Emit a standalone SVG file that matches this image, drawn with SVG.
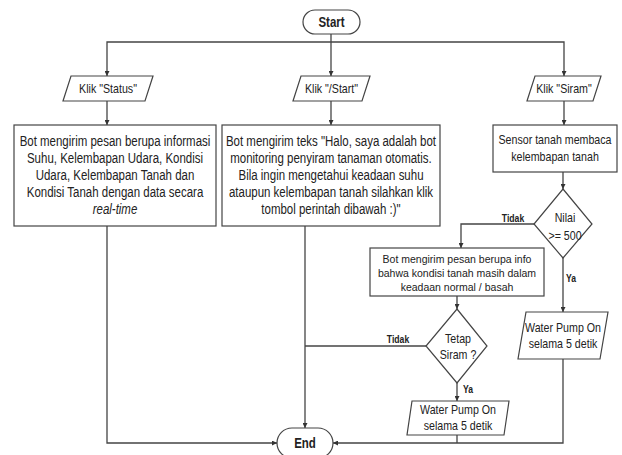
<svg xmlns="http://www.w3.org/2000/svg" width="622" height="455" viewBox="0 0 622 455">
<defs>
<marker id="arr" viewBox="0 0 10 10" refX="10" refY="5" markerWidth="5" markerHeight="5" orient="auto" markerUnits="userSpaceOnUse">
<path d="M0,0 L10,5 L0,10 z" fill="#333"/>
</marker>
<style>
.sh{fill:#fff;stroke:#444;stroke-width:1.2}
.ln{fill:none;stroke:#444;stroke-width:1.3}
.ln.a{marker-end:url(#arr)}
text{font-family:"Liberation Sans",Arial,sans-serif;fill:#222;text-anchor:middle}
.big{font-size:14px}
.mid{font-size:13px}
.klik{font-size:13px}
.term{font-size:14px;font-weight:bold}
.lbl{font-size:10.5px;font-weight:bold}
.small{font-size:10.5px}
</style>
</defs>
<rect width="622" height="455" fill="#fff"/>
<g id="connectors">
<path class="ln a" d="M331,34 V76"/>
<path class="ln a" d="M331,42 H107 V76"/>
<path class="ln a" d="M331,42 H564 V76"/>
<path class="ln a" d="M107,101 V125"/>
<path class="ln a" d="M331,101 V125"/>
<path class="ln a" d="M564,101 V125"/>
<path class="ln a" d="M107,226 V443 H277"/>
<path class="ln a" d="M305,226 V428"/>
<path class="ln a" d="M563,172 V189"/>
<path class="ln a" d="M534,224 H461 V248"/>
<path class="ln a" d="M563,258 V312"/>
<path class="ln a" d="M457,296 V309"/>
<path class="ln" d="M426,346 H305"/>
<path class="ln a" d="M457,383 V401"/>
<path class="ln" d="M457,435 V443"/>
<path class="ln a" d="M563,359 V443 H333"/>
<text class="lbl" transform="matrix(0.82 0 0 1 513 222)">Tidak</text>
<text class="lbl" transform="matrix(0.82 0 0 1 571 282)">Ya</text>
<text class="lbl" transform="matrix(0.82 0 0 1 398 343)">Tidak</text>
<text class="lbl" transform="matrix(0.82 0 0 1 468 393)">Ya</text>
</g>
<g id="start">
<rect class="sh" x="303" y="10" width="57" height="24" rx="12"/>
<text class="term" transform="matrix(0.82 0 0 1 331.5 27)">Start</text>
</g>
<g id="klik-status">
<polygon class="sh" points="71,76 153,76 145,101 63,101"/>
<text class="klik" transform="matrix(0.82 0 0 1 108 93)">Klik "Status"</text>
</g>
<g id="klik-start">
<polygon class="sh" points="301,76 370,76 362,101 293,101"/>
<text class="klik" transform="matrix(0.82 0 0 1 331.5 93)">Klik "/Start"</text>
</g>
<g id="klik-siram">
<polygon class="sh" points="535,76 601,76 593,101 527,101"/>
<text class="klik" transform="matrix(0.82 0 0 1 564 93)">Klik "Siram"</text>
</g>
<g id="status-info">
<rect class="sh" x="14" y="125" width="202" height="101"/>
<text class="big" transform="matrix(0.82 0 0 1 115 146)">Bot mengirim pesan berupa informasi</text>
<text class="big" transform="matrix(0.82 0 0 1 115 163)">Suhu, Kelembapan Udara, Kondisi</text>
<text class="big" transform="matrix(0.82 0 0 1 115 180)">Udara, Kelembapan Tanah dan</text>
<text class="big" transform="matrix(0.82 0 0 1 115 197)">Kondisi Tanah dengan data secara</text>
<text class="big" transform="matrix(0.82 0 0 1 115 214)" font-style="italic">real-time</text>
</g>
<g id="start-info">
<rect class="sh" x="222" y="125" width="218" height="101"/>
<text class="big" transform="matrix(0.82 0 0 1 331 146)">Bot mengirim teks "Halo, saya adalah bot</text>
<text class="big" transform="matrix(0.82 0 0 1 331 163)">monitoring penyiram tanaman otomatis.</text>
<text class="big" transform="matrix(0.82 0 0 1 331 180)">Bila ingin mengetahui keadaan suhu</text>
<text class="big" transform="matrix(0.82 0 0 1 331 197)">ataupun kelembapan tanah silahkan klik</text>
<text class="big" transform="matrix(0.82 0 0 1 331 214)">tombol perintah dibawah :)"</text>
</g>
<g id="sensor">
<rect class="sh" x="493" y="125" width="124" height="47"/>
<text class="mid" transform="matrix(0.82 0 0 1 555 144)">Sensor tanah membaca</text>
<text class="mid" transform="matrix(0.82 0 0 1 555 161)">kelembapan tanah</text>
</g>
<g id="nilai">
<polygon class="sh" points="563,189 592,224 563,258 534,224"/>
<text class="mid" transform="matrix(0.82 0 0 1 565 222)">Nilai</text>
<text class="mid" transform="matrix(0.82 0 0 1 565 240)">&gt;= 500</text>
</g>
<g id="info-normal">
<rect class="sh" x="370" y="248" width="174" height="48"/>
<text class="small" x="457" y="263">Bot mengirim pesan berupa info</text>
<text class="small" x="457" y="277">bahwa kondisi tanah masih dalam</text>
<text class="small" x="457" y="291">keadaan normal / basah</text>
</g>
<g id="tetap-siram">
<polygon class="sh" points="457,309 487,346 457,383 426,346"/>
<text class="mid" transform="matrix(0.82 0 0 1 458 343)">Tetap</text>
<text class="mid" transform="matrix(0.82 0 0 1 458 359)">Siram ?</text>
</g>
<g id="pump-right">
<polygon class="sh" points="526,312 608,312 600,359 518,359"/>
<text class="mid" transform="matrix(0.82 0 0 1 563 332)">Water Pump On</text>
<text class="mid" transform="matrix(0.82 0 0 1 563 348)">selama 5 detik</text>
</g>
<g id="pump-bottom">
<polygon class="sh" points="412,401 509,401 504,435 407,435"/>
<text class="mid" transform="matrix(0.82 0 0 1 458 414)">Water Pump On</text>
<text class="mid" transform="matrix(0.82 0 0 1 458 430)">selama 5 detik</text>
</g>
<g id="end">
<rect class="sh" x="277" y="428" width="56" height="30" rx="15"/>
<text class="term" transform="matrix(0.82 0 0 1 305 448)">End</text>
</g>
</svg>
